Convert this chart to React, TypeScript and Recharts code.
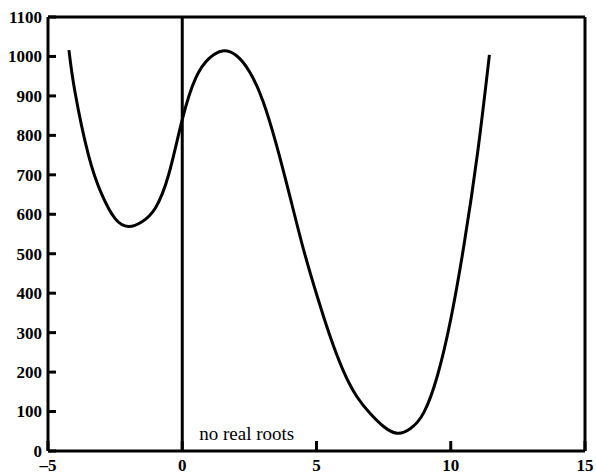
import { LineChart, Line, XAxis, YAxis, ReferenceLine } from 'recharts';

const xValues = [
  -4.22, -4, -3.5, -3, -2.5, -2, -1.5, -1, -0.5, 0, 0.5, 1, 1.5, 2, 2.5, 3, 3.5,
  4, 4.5, 5, 5.5, 6, 6.5, 7, 7.5, 8, 8.5, 9, 9.5, 10, 10.5, 11, 11.44,
];
const yValues = [
  1016, 912, 752, 651, 589, 569, 581, 616, 702, 840, 945, 995, 1014, 1003, 962, 888, 778,
  648, 515, 398, 292, 203, 138, 95, 62, 45, 57, 98, 190, 334, 525, 756, 1004,
];
const xTicks = [-5, 0, 5, 10, 15];
const yTicks = [0, 100, 200, 300, 400, 500, 600, 700, 800, 900, 1000, 1100];
const note = 'no real roots';

const points = xValues.map((x, i) => ({ x, y: yValues[i] }));

const FONT = '"Liberation Serif", "Times New Roman", serif';

// eslint-disable-next-line @typescript-eslint/no-explicit-any
function YTick({ x, y, payload }: any) {
  const axisX = x + 5;
  return (
    <g>
      <line x1={axisX} x2={axisX + 8} y1={y} y2={y} stroke="#000" strokeWidth={3} />
      <text x={x - 1} y={y} dy="0.35em" textAnchor="end" fontFamily={FONT} fontSize={17} fontWeight="bold" fill="#000">
        {payload.value}
      </text>
    </g>
  );
}

// eslint-disable-next-line @typescript-eslint/no-explicit-any
function XTick({ x, y, payload }: any) {
  const axisY = y - 8;
  const label = payload.value < 0 ? `–${Math.abs(payload.value)}` : String(payload.value);
  return (
    <g>
      <line x1={x} x2={x} y1={axisY} y2={axisY - 10} stroke="#000" strokeWidth={3} />
      <text x={x} y={y} dy="0.71em" textAnchor="middle" fontFamily={FONT} fontSize={17} fontWeight="bold" fill="#000">
        {label}
      </text>
    </g>
  );
}

// eslint-disable-next-line @typescript-eslint/no-explicit-any
function NoteLabel({ viewBox }: any) {
  return (
    <text x={viewBox.x + 17} y={viewBox.y + viewBox.height - 11} fontFamily={FONT} fontSize={19} fill="#000">
      {note}
    </text>
  );
}

export default function App() {
  return (
    <div style={{ position: 'absolute', left: 0, top: 0, background: '#fff' }}>
      <LineChart width={596} height={475} data={points} margin={{ top: 17, right: 11, bottom: 0, left: 0 }}>
        <XAxis
          type="number"
          dataKey="x"
          domain={[-5, 15]}
          ticks={xTicks}
          allowDataOverflow
          height={24}
          tickSize={0}
          tickMargin={8}
          tick={<XTick />}
          axisLine={{ stroke: '#000', strokeWidth: 3 }}
          tickLine={false}
        />
        <YAxis
          type="number"
          domain={[0, 1100]}
          ticks={yTicks}
          allowDataOverflow
          width={48}
          tickSize={0}
          tickMargin={5}
          tick={<YTick />}
          axisLine={{ stroke: '#000', strokeWidth: 3 }}
          tickLine={false}
        />
        <ReferenceLine y={1100} stroke="#000" strokeWidth={3} />
        <ReferenceLine x={15} stroke="#000" strokeWidth={3} />
        <ReferenceLine x={0} stroke="#000" strokeWidth={3} label={<NoteLabel />} />
        <Line
          type="natural"
          dataKey="y"
          stroke="#000"
          strokeWidth={3}
          dot={false}
          isAnimationActive={false}
        />
      </LineChart>
    </div>
  );
}
